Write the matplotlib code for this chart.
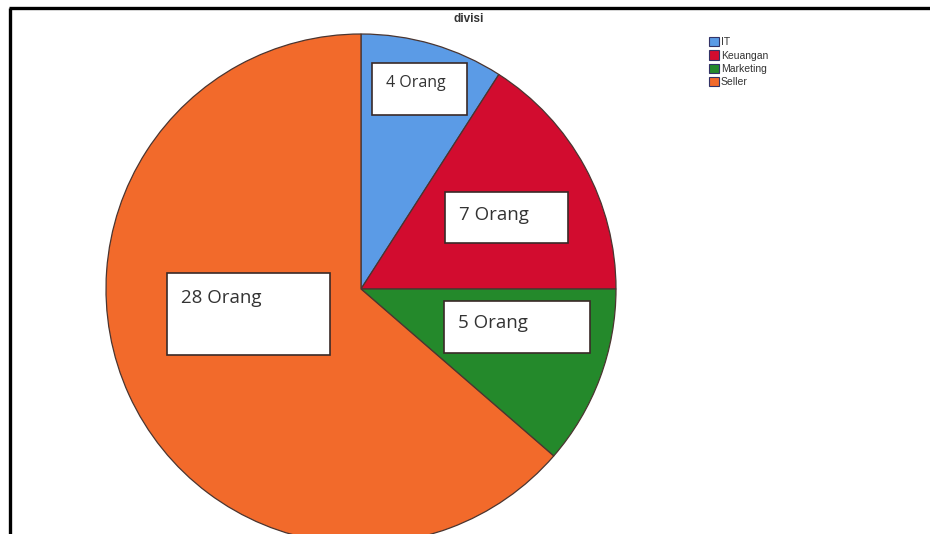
import matplotlib.pyplot as plt
from matplotlib.patches import Rectangle

# data
divisi = ["IT", "Keuangan", "Marketing", "Seller"]
jumlah = [4, 7, 5, 28]
label_teks = ["4 Orang", "7 Orang", "5 Orang", "28 Orang"]
warna = ["#5b9be6", "#d20c2f", "#24892b", "#f26a2b"]

# layout (pixel coords, y from top)
W, H = 930, 534
pusat = (361, 289)
jari = 255
# label boxes: x, y_top, w, h, text offset y, font size
kotak = [(372, 63, 95, 52, 20, 11.5), (445, 192, 123, 51, 23, 13.5),
         (444, 301, 146, 52, 22, 13.5), (167, 273, 163, 82, 25, 13.5)]

fig = plt.figure(figsize=(W / 100, H / 100), dpi=100)
ax = fig.add_axes([0, 0, 1, 1])

wedges, _ = ax.pie(jumlah, colors=warna, startangle=90, counterclock=False,
                   center=(pusat[0], H - pusat[1]), radius=jari,
                   wedgeprops=dict(edgecolor="#4a3530", linewidth=0.9))
ax.set_xlim(0, W)
ax.set_ylim(0, H)
ax.set_aspect("equal")
ax.axis("off")

# white label boxes
for (x, y, w, h, dy, fs), t in zip(kotak, label_teks):
    ax.add_patch(Rectangle((x, H - y - h), w, h, facecolor="white",
                           edgecolor="#3a2a28", linewidth=1.2, zorder=5))
    ax.text(x + 14, H - y - dy, t, fontsize=fs, family="Open Sans",
            color="#333333", ha="left", va="center", zorder=6)

# title
ax.text(469, H - 19, "divisi", fontsize=8.5, fontweight="bold",
        family="Liberation Sans", color="#333333", ha="center", va="center")

# outer frame (top and left)
ax.plot([9, W], [H - 8, H - 8], color="black", lw=2.4, solid_capstyle="butt")
ax.plot([10, 10], [H - 8, 0], color="black", lw=2.4, solid_capstyle="butt")

leg = fig.legend(wedges, divisi, loc="upper left",
                 bbox_to_anchor=(709 / W, 1 - 37 / H), frameon=False,
                 prop=dict(family="Liberation Sans", size=7.5),
                 handlelength=0.95, handleheight=1.0, labelspacing=0.3,
                 handletextpad=0.2, borderpad=0, borderaxespad=0)
for p in leg.get_patches():
    p.set_edgecolor("#333366")
    p.set_linewidth(0.8)
for t in leg.get_texts():
    t.set_color("#333333")

fig.savefig("out.png", dpi=100)
